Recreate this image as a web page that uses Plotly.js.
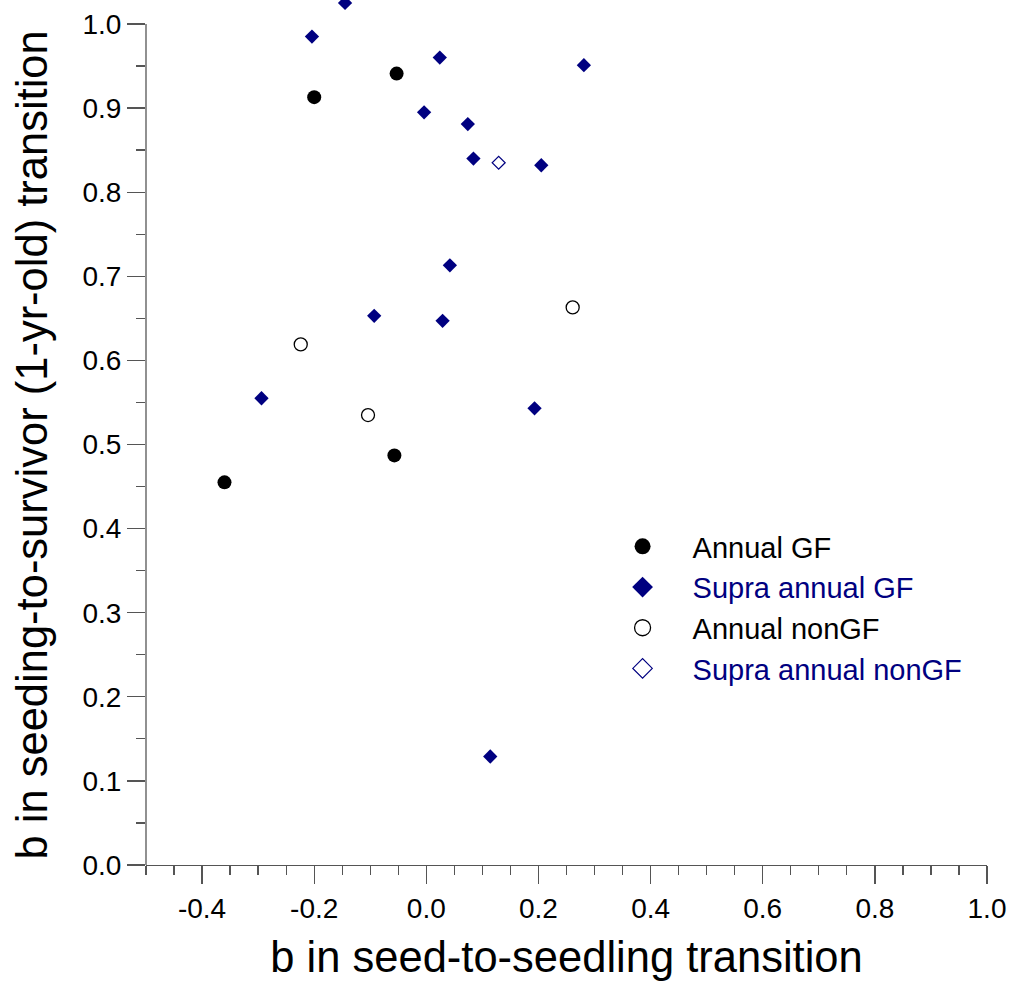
<!DOCTYPE html>
<html>
<head>
<meta charset="utf-8">
<script src="https://cdn.plot.ly/plotly-3.0.1.min.js"></script>
<style>html,body{margin:0;padding:0;background:#fff;}</style>
</head>
<body>
<div id="chart" style="width:1013px;height:981px;"></div>
<script>
// Annual GF (filled black circles)
const annualGF_x = [-0.200, -0.053, -0.360, -0.057];
const annualGF_y = [0.913, 0.941, 0.455, 0.487];

// Supra annual GF (filled navy diamonds)
const supraGF_x = [-0.145, -0.204, 0.024, 0.281, -0.004, 0.074, 0.084, 0.205, 0.042, -0.093, 0.029, -0.294, 0.193, 0.114];
const supraGF_y = [1.025, 0.985, 0.960, 0.951, 0.895, 0.881, 0.840, 0.832, 0.713, 0.653, 0.647, 0.555, 0.543, 0.129];

// Annual nonGF (open black circles)
const annualNonGF_x = [-0.224, -0.104, 0.261];
const annualNonGF_y = [0.619, 0.535, 0.663];

// Supra annual nonGF (open navy diamond)
const supraNonGF_x = [0.129];
const supraNonGF_y = [0.835];

const seriesNames = ["Annual GF", "Supra annual GF", "Annual nonGF", "Supra annual nonGF"];
const xTickVals = [-0.4, -0.2, 0.0, 0.2, 0.4, 0.6, 0.8, 1.0];
const xTickText = ["-0.4", "-0.2", "0.0", "0.2", "0.4", "0.6", "0.8", "1.0"];
const xTitle = "b in seed-to-seedling transition";
const yTitle = "b in seeding-to-survivor (1-yr-old) transition";

const NAVY = "#000080";
const AXC = "#555555";
const FONT = "Liberation Sans, Arial, Helvetica, sans-serif";

const traces = [
  {x: annualGF_x, y: annualGF_y, type: "scatter", mode: "markers", showlegend: false, cliponaxis: false,
   marker: {symbol: "circle", size: 14, color: "#000000", line: {width: 0}}},
  {x: supraGF_x, y: supraGF_y, type: "scatter", mode: "markers", showlegend: false, cliponaxis: false,
   marker: {symbol: "diamond", size: 11, color: NAVY, line: {width: 0}}},
  {x: annualNonGF_x, y: annualNonGF_y, type: "scatter", mode: "markers", showlegend: false, cliponaxis: false,
   marker: {symbol: "circle-open", size: 13, color: "#000000", line: {width: 1.3}}},
  {x: supraNonGF_x, y: supraNonGF_y, type: "scatter", mode: "markers", showlegend: false, cliponaxis: false,
   marker: {symbol: "diamond-open", size: 10, color: NAVY, line: {width: 1.2}}},
  // legend entries
  {x: [null], y: [null], type: "scatter", mode: "markers", name: seriesNames[0],
   marker: {symbol: "circle", size: 16, color: "#000000"}},
  {x: [null], y: [null], type: "scatter", mode: "markers", name: '<span style="color:' + NAVY + '">' + seriesNames[1] + '</span>',
   marker: {symbol: "diamond", size: 16, color: NAVY}},
  {x: [null], y: [null], type: "scatter", mode: "markers", name: seriesNames[2],
   marker: {symbol: "circle-open", size: 16, color: "#000000", line: {width: 1.3}}},
  {x: [null], y: [null], type: "scatter", mode: "markers", name: '<span style="color:' + NAVY + '">' + seriesNames[3] + '</span>',
   marker: {symbol: "diamond-open", size: 15, color: NAVY, line: {width: 1.2}}}
];

const axisCommon = {
  showgrid: false, zeroline: false,
  ticks: "outside", ticklen: 18, tickwidth: 1.3, tickcolor: AXC,
  tickfont: {family: FONT, size: 28, color: "#000000"},
  automargin: false
};

const layout = {
  width: 1013, height: 981,
  paper_bgcolor: "#ffffff", plot_bgcolor: "#ffffff",
  margin: {l: 146, r: 26, t: 0, b: 116},
  font: {family: FONT, color: "#000000"},
  xaxis: Object.assign({}, axisCommon, {
    range: [-0.5, 1.0], tickmode: "array", tickvals: xTickVals, ticktext: xTickText,
    showline: true, linecolor: AXC, linewidth: 1.3,
    minor: {dtick: 0.05, tick0: 0, ticklen: 9, tickwidth: 1.3, tickcolor: AXC, ticks: "outside"},
    title: {text: xTitle, font: {family: FONT, size: 43.5, color: "#000000"}, standoff: 18}
  }),
  yaxis: Object.assign({}, axisCommon, {
    range: [0, 1.0285], tick0: 0, dtick: 0.1, tickformat: ".1f",
    showline: false,
    minor: {dtick: 0.05, tick0: 0, ticklen: 9, tickwidth: 1.3, tickcolor: AXC, ticks: "outside"}
  }),
  annotations: [
    {text: yTitle, xref: "paper", yref: "paper", x: -0.1356, y: 0.4861,
     xanchor: "center", yanchor: "middle", textangle: -90, showarrow: false,
     font: {family: FONT, size: 43.5, color: "#000000"}}
  ],
  shapes: [
    {type: "line", xref: "paper", yref: "y", x0: 0, x1: 0, y0: 0, y1: 1.0,
     line: {color: AXC, width: 1.3}, layer: "above"}
  ],
  showlegend: true,
  legend: {
    x: 0.531, y: 0.3977, xanchor: "left", yanchor: "top",
    font: {family: FONT, size: 29, color: "#000000"},
    bgcolor: "rgba(0,0,0,0)", borderwidth: 0, itemwidth: 90,
    tracegroupgap: 0
  }
};

Plotly.newPlot("chart", traces, layout, {displayModeBar: false, staticPlot: true});
</script>
</body>
</html>
